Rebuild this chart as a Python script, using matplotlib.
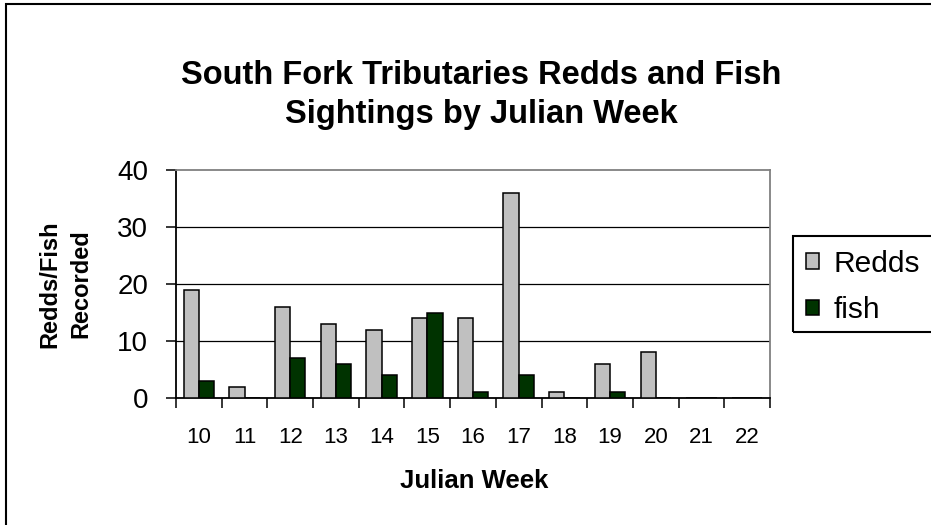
import matplotlib
matplotlib.use('Agg')
import matplotlib.pyplot as plt
from matplotlib.patches import Rectangle
import numpy as np

weeks = ['10', '11', '12', '13', '14', '15', '16', '17', '18', '19', '20', '21', '22']
redds = [19, 2, 16, 13, 12, 14, 14, 36, 1, 6, 8, 0, 0]
fish = [3, 0, 7, 6, 4, 15, 1, 4, 0, 1, 0, 0, 0]
yticks = [0, 10, 20, 30, 40]

plt.rcParams['font.family'] = ['Liberation Sans', 'DejaVu Sans']

W, H = 931, 525
fig = plt.figure(figsize=(W / 100, H / 100), dpi=100)
ax = fig.add_axes([176 / W, 1 - 398 / H, (770 - 176) / W, (398 - 170) / H])

x = np.arange(len(weeks))
bw = 1 / 3
ax.bar(x - bw / 2, redds, bw, color='#C0C0C0', edgecolor='black', linewidth=1.1, label='Redds', zorder=3)
ax.bar(x + bw / 2, fish, bw, color='#003300', edgecolor='black', linewidth=1.1, label='fish', zorder=3)

ax.set_xlim(-0.5, len(weeks) - 0.5)
ax.set_ylim(0, 40)
for v in yticks[1:-1]:
    ax.axhline(v, color='black', linewidth=0.9, zorder=1)

ax.set_yticks(yticks)
ax.set_yticklabels([str(v) for v in yticks], fontsize=20)
ax.tick_params(axis='y', direction='out', length=7, width=1.1, pad=13)

ax.set_xticks(x)
ax.set_xticklabels(weeks, fontsize=16)
ax.set_xticks(np.arange(len(weeks) + 1) - 0.5, minor=True)
ax.tick_params(axis='x', which='major', length=0, pad=21)
ax.tick_params(axis='x', which='minor', direction='out', length=7, width=1.1)

for s in ['left', 'bottom']:
    ax.spines[s].set_color('black')
    ax.spines[s].set_linewidth(1.3)
for s in ['top', 'right']:
    ax.spines[s].set_color('#808080')
    ax.spines[s].set_linewidth(1.3)

fig.text(481 / W, 1 - 95 / H, 'South Fork Tributaries Redds and Fish\nSightings by Julian Week',
         ha='center', va='center', fontsize=23.5, fontweight='bold', linespacing=1.35)
fig.text(65 / W, 1 - 284 / H, 'Redds/Fish\nRecorded', rotation=90, ha='center', va='center',
         fontsize=17, fontweight='bold', multialignment='center', linespacing=1.45)
fig.text(474.5 / W, 1 - 481 / H, 'Julian Week', ha='center', va='center', fontsize=18.5, fontweight='bold')

# figure frame (cut at right/bottom edges)
fig.patches.append(Rectangle((6 / W, -0.5), 2.0, 1 - 4 / H + 0.5, transform=fig.transFigure,
                             fill=False, edgecolor='black', linewidth=1.5))
# legend frame
fig.patches.append(Rectangle((793 / W, 1 - 332 / H), 1.0, 96 / H, transform=fig.transFigure,
                             fill=False, edgecolor='black', linewidth=1.5))
leg = fig.legend(loc='center left', bbox_to_anchor=(806 / W, 1 - 287 / H), frameon=False,
                 fontsize=21.5, handlelength=0.42, handleheight=0.42, handletextpad=0.5,
                 labelspacing=0.62, borderpad=0, borderaxespad=0)

fig.savefig('out.png', dpi=100)
